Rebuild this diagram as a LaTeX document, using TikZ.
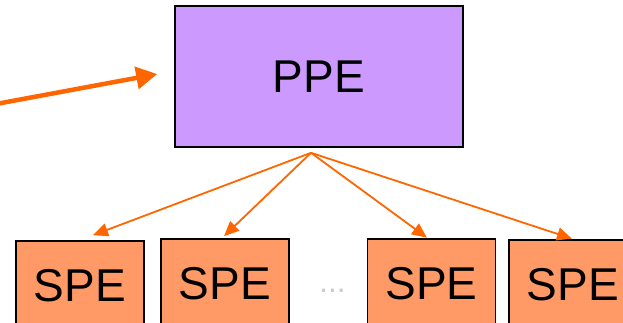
\documentclass[tikz,border=0pt]{standalone}
\usepackage{fontspec}
\setmainfont{Liberation Sans}
\usetikzlibrary{positioning, calc, arrows.meta}
\definecolor{ppepurple}{HTML}{CC99FF}
\definecolor{speorange}{HTML}{FF9966}
\definecolor{linkorange}{HTML}{FF6600}
\tikzset{
    unit/.style={draw=black, line width=1.6pt, inner sep=0pt, font=\fontsize{46}{50}\selectfont},
    ppebox/.style={unit, fill=ppepurple, minimum width=288pt, minimum height=141pt},
    spebox/.style={unit, fill=speorange, minimum width=128pt, minimum height=90pt},
    link/.style={draw=linkorange, line width=1.8pt, -{Triangle[length=15pt, width=13pt]}},
    feed/.style={draw=linkorange, line width=4.5pt, -{Triangle[length=21pt, width=22pt]}}
}

\begin{document}
\begin{tikzpicture}[x=1pt, y=-1pt]
        \useasboundingbox (0,0) rectangle (623,323);
        \clip (0,0) rectangle (623,323);
        %Frames
        \node[ppebox] (ppe) at (319,76.5) {PPE};
        \node[spebox] (spe1) at (80,286) {SPE};
        \node[spebox] (spe2) at (225,284) {SPE};
        \node[spebox] (spe3) at (431.5,284) {SPE};
        \node[spebox] (spe4) at (573,285) {SPE};
        \node[anchor=base, text=black!20, font=\fontsize{32}{34}\selectfont] (dots) at (332.5,292) {...};
        %Extra coordinates for paths
        \coordinate (fan) at ($(ppe.south)+(-8,5)$);
        \coordinate (feedin) at (-4,104);
        %Paths
        \draw[feed, shorten >=17.3pt] (feedin) -- ([yshift=5.6pt]ppe.west);
        \draw[link] (fan) -- ([xshift=13pt, yshift=5pt]spe1.north);
        \draw[link] (fan) -- ([xshift=-1pt, yshift=2pt]spe2.north);
        \draw[link] (fan) -- ([xshift=-4.5pt, yshift=0.5pt]spe3.north);
        \draw[link] (fan) -- ([xshift=-1pt, yshift=0.5pt]spe4.north);
    \end{tikzpicture}
\end{document}
